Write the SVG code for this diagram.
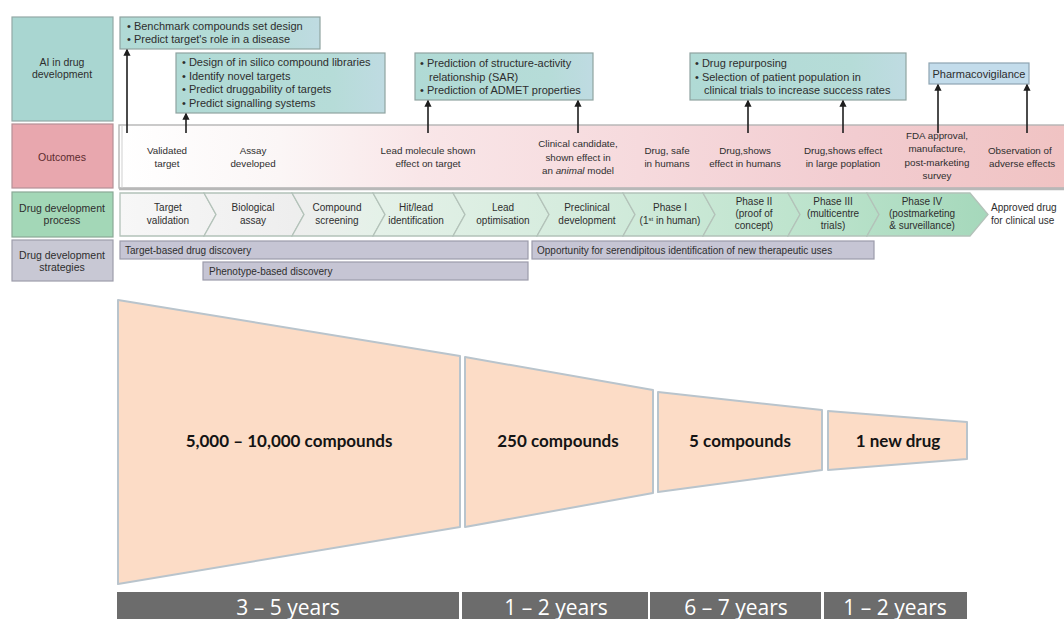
<svg xmlns="http://www.w3.org/2000/svg" width="1064" height="619" viewBox="0 0 1064 619">
<style>
  .t { font-family: "Liberation Sans", Arial, sans-serif; fill: #2e2e2e; }
  .lab { font-size: 10.5px; text-anchor: middle; }
  .ai { font-size: 11px; }
  .out { font-size: 9.8px; text-anchor: middle; }
  .proc { font-size: 10px; text-anchor: middle; }
  .st { text-anchor: start; }
  .strat { font-size: 10px; }
  .aibox { fill: url(#aiGrad); stroke: #8fa3a1; stroke-width: 1.2; }
  .chev { fill: url(#chevGrad); stroke: #b3c2b9; stroke-width: 1.3; }
  .sbar { fill: #c6c5d4; stroke: #9c9bab; stroke-width: 1.2; }
  .arr { stroke: #1e1e1e; stroke-width: 1.6; fill: none; marker-end: url(#ah); }
  .fun { fill: #fcdcc6; stroke: #b9c4cc; stroke-width: 2; stroke-linejoin: round; }
  .flab { font-family: Lato, "Open Sans", sans-serif; font-weight: bold; font-size: 17px; fill: #141414; text-anchor: middle; }
  .ybar { fill: #6c6c6c; }
  .ylab { font-family: "Open Sans", "Liberation Sans", sans-serif; font-size: 21px; fill: #ffffff; text-anchor: middle; }
</style>
<defs>
  <marker id="ah" viewBox="0 0 10 10" refX="8" refY="5" markerWidth="4.5" markerHeight="4.5" orient="auto">
    <path d="M0,0 L10,5 L0,10 Z" fill="#1e1e1e"/>
  </marker>
  <linearGradient id="aiGrad" x1="0" y1="0" x2="1" y2="0">
    <stop offset="0" stop-color="#b0dad5"/>
    <stop offset="0.75" stop-color="#b6dcd8"/>
    <stop offset="1" stop-color="#bfdbe2"/>
  </linearGradient>
  <linearGradient id="outGrad" gradientUnits="userSpaceOnUse" x1="119" y1="0" x2="1064" y2="0">
    <stop offset="0" stop-color="#ffffff"/>
    <stop offset="0.17" stop-color="#fbf6f6"/>
    <stop offset="0.32" stop-color="#f9e6e8"/>
    <stop offset="0.55" stop-color="#f6dadd"/>
    <stop offset="0.78" stop-color="#f2ccd0"/>
    <stop offset="1" stop-color="#f0c3c3"/>
  </linearGradient>
  <linearGradient id="chevGrad" gradientUnits="userSpaceOnUse" x1="120" y1="0" x2="988" y2="0">
    <stop offset="0" stop-color="#f7f7f7"/>
    <stop offset="0.2" stop-color="#eeeeee"/>
    <stop offset="0.3" stop-color="#e4f1e8"/>
    <stop offset="0.55" stop-color="#d3ebdc"/>
    <stop offset="0.8" stop-color="#bce3cc"/>
    <stop offset="1" stop-color="#a5d8bb"/>
  </linearGradient>
</defs>

<!-- Left column labels -->
<g id="label-ai">
  <rect x="12" y="17" width="101" height="104" fill="#a9d6d1" stroke="#93a8a6" stroke-width="1.2"/>
  <text class="t lab" x="62" y="66">AI in drug</text>
  <text class="t lab" x="62" y="78">development</text>
</g>
<g id="label-outcomes">
  <rect x="12" y="124" width="101" height="64" fill="#e8a7ae" stroke="#b59096" stroke-width="1.2"/>
  <text class="t lab" x="62" y="161" style="fill:#5c2b2e">Outcomes</text>
</g>
<g id="label-process">
  <rect x="12" y="192" width="101" height="45" fill="#a3d7b7" stroke="#8aa896" stroke-width="1.2"/>
  <text class="t lab" x="62" y="212">Drug development</text>
  <text class="t lab" x="62" y="224">process</text>
</g>
<g id="label-strategies">
  <rect x="12" y="240" width="101" height="41" fill="#c8c8d4" stroke="#9d9dab" stroke-width="1.2"/>
  <text class="t lab" x="62" y="259">Drug development</text>
  <text class="t lab" x="62" y="271">strategies</text>
</g>

<!-- Outcomes row -->
<g id="outcomes-row">
  <rect x="119" y="125" width="950" height="63" fill="url(#outGrad)" stroke="#b4b4b4" stroke-width="1.4"/>
  <line x1="119" y1="189" x2="1064" y2="189" stroke="#b8b8b8" stroke-width="2.5"/>
  <line x1="122" y1="125" x2="122" y2="188" stroke="#cfcfcf" stroke-width="1"/>
</g>

<!-- AI boxes -->
<g id="ai-box-1">
  <rect class="aibox" x="120" y="17" width="200" height="32"/>
  <text class="t ai" x="127" y="30">• Benchmark compounds set design</text>
  <text class="t ai" x="127" y="43">• Predict target's role in a disease</text>
</g>
<g id="ai-box-2">
  <rect class="aibox" x="176" y="53" width="209" height="60"/>
  <text class="t ai" x="182" y="66">• Design of in silico compound libraries</text>
  <text class="t ai" x="182" y="80">• Identify novel targets</text>
  <text class="t ai" x="182" y="93">• Predict druggability of targets</text>
  <text class="t ai" x="182" y="107">• Predict signalling systems</text>
</g>
<g id="ai-box-3">
  <rect class="aibox" x="415" y="53" width="178" height="47"/>
  <text class="t ai" x="420" y="67">• Prediction of structure-activity</text>
  <text class="t ai" x="429" y="81">relationship (SAR)</text>
  <text class="t ai" x="420" y="94">• Prediction of ADMET properties</text>
</g>
<g id="ai-box-4">
  <rect class="aibox" x="690" y="53" width="216" height="47"/>
  <text class="t ai" x="695" y="67">• Drug repurposing</text>
  <text class="t ai" x="695" y="81">• Selection of patient population in</text>
  <text class="t ai" x="704" y="94">clinical trials to increase success rates</text>
</g>
<g id="ai-box-5">
  <rect x="929" y="63" width="100" height="21" fill="#c3dceb" stroke="#8ea4b2" stroke-width="1.2"/>
  <text class="t ai" x="979" y="78" text-anchor="middle">Pharmacovigilance</text>
</g>

<!-- Outcome texts -->
<g id="outcomes">
  <text class="t out" x="167" y="154">Validated</text>
  <text class="t out" x="167" y="167">target</text>
  <text class="t out" x="253" y="154">Assay</text>
  <text class="t out" x="253" y="167">developed</text>
  <text class="t out" x="428" y="154">Lead molecule shown</text>
  <text class="t out" x="428" y="167">effect on target</text>
  <text class="t out" x="578" y="147">Clinical candidate,</text>
  <text class="t out" x="578" y="161">shown effect in</text>
  <text class="t out" x="578" y="174">an <tspan font-style="italic">animal</tspan> model</text>
  <text class="t out" x="667" y="154">Drug, safe</text>
  <text class="t out" x="667" y="167">in humans</text>
  <text class="t out" x="745" y="154">Drug,shows</text>
  <text class="t out" x="745" y="167">effect in humans</text>
  <text class="t out" x="843" y="154">Drug,shows effect</text>
  <text class="t out" x="843" y="167">in large poplation</text>
  <text class="t out" x="937" y="139">FDA approval,</text>
  <text class="t out" x="937" y="152">manufacture,</text>
  <text class="t out" x="937" y="166">post-marketing</text>
  <text class="t out" x="937" y="179">survey</text>
  <text class="t out st" x="988" y="154">Observation of</text>
  <text class="t out st" x="989" y="167">adverse effects</text>
</g>

<!-- Process chevrons -->
<g id="process">
  <path class="chev" d="M120,193 L204,193 L216,214.5 L204,236 L120,236 Z"/>
  <path class="chev" d="M204,193 L292,193 L304,214.5 L292,236 L204,236 L216,214.5 Z"/>
  <path class="chev" d="M292,193 L373,193 L385,214.5 L373,236 L292,236 L304,214.5 Z"/>
  <path class="chev" d="M373,193 L453,193 L465,214.5 L453,236 L373,236 L385,214.5 Z"/>
  <path class="chev" d="M453,193 L537,193 L549,214.5 L537,236 L453,236 L465,214.5 Z"/>
  <path class="chev" d="M537,193 L623,193 L635,214.5 L623,236 L537,236 L549,214.5 Z"/>
  <path class="chev" d="M623,193 L703,193 L715,214.5 L703,236 L623,236 L635,214.5 Z"/>
  <path class="chev" d="M703,193 L788,193 L800,214.5 L788,236 L703,236 L715,214.5 Z"/>
  <path class="chev" d="M788,193 L867,193 L879,214.5 L867,236 L788,236 L800,214.5 Z"/>
  <path class="chev" d="M867,193 L970,193 L988,214.5 L970,236 L867,236 L879,214.5 Z"/>
  <text class="t proc" x="168" y="211">Target</text>
  <text class="t proc" x="168" y="224">validation</text>
  <text class="t proc" x="253" y="211">Biological</text>
  <text class="t proc" x="253" y="224">assay</text>
  <text class="t proc" x="337" y="211">Compound</text>
  <text class="t proc" x="337" y="224">screening</text>
  <text class="t proc" x="416" y="211">Hit/lead</text>
  <text class="t proc" x="416" y="224">identification</text>
  <text class="t proc" x="503" y="211">Lead</text>
  <text class="t proc" x="503" y="224">optimisation</text>
  <text class="t proc" x="587" y="211">Preclinical</text>
  <text class="t proc" x="587" y="224">development</text>
  <text class="t proc" x="670" y="211">Phase I</text>
  <text class="t proc" x="670" y="224">(1<tspan font-size="6" dy="-3.5">st</tspan><tspan dy="3.5"> in human)</tspan></text>
  <text class="t proc" x="754" y="205">Phase II</text>
  <text class="t proc" x="754" y="217">(proof of</text>
  <text class="t proc" x="754" y="229">concept)</text>
  <text class="t proc" x="833" y="205">Phase III</text>
  <text class="t proc" x="833" y="217">(multicentre</text>
  <text class="t proc" x="833" y="229">trials)</text>
  <text class="t proc" x="922" y="205">Phase IV</text>
  <text class="t proc" x="922" y="217">(postmarketing</text>
  <text class="t proc" x="922" y="229">&amp; surveillance)</text>
  <text class="t proc st" x="991" y="211">Approved drug</text>
  <text class="t proc st" x="991" y="224">for clinical use</text>
</g>

<!-- Strategies -->
<g id="strategy-target">
  <rect class="sbar" x="120" y="241" width="408" height="18"/>
  <text class="t strat" x="125" y="254">Target-based drug discovery</text>
</g>
<g id="strategy-phenotype">
  <rect class="sbar" x="203" y="262" width="325" height="18"/>
  <text class="t strat" x="209" y="275">Phenotype-based discovery</text>
</g>
<g id="strategy-serendipity">
  <rect class="sbar" x="532" y="241" width="342" height="18"/>
  <text class="t strat" x="537" y="254">Opportunity for serendipitous identification of new therapeutic uses</text>
</g>

<!-- Connectors -->
<g id="connectors">
  <line class="arr" x1="127" y1="133" x2="127" y2="50"/>
  <line class="arr" x1="186" y1="133" x2="186" y2="114"/>
  <line class="arr" x1="428" y1="133" x2="428" y2="101"/>
  <line class="arr" x1="578" y1="133" x2="578" y2="101"/>
  <line class="arr" x1="748" y1="133" x2="748" y2="101"/>
  <line class="arr" x1="843" y1="133" x2="843" y2="101"/>
  <line class="arr" x1="938" y1="133" x2="938" y2="85"/>
  <line class="arr" x1="1027" y1="133" x2="1027" y2="85"/>
</g>

<!-- Funnel -->
<g id="funnel-1">
  <path class="fun" d="M118,300 L460,356 L460,527 L118,584 Z"/>
  <text class="flab" x="289" y="447">5,000 – 10,000 compounds</text>
</g>
<g id="funnel-2">
  <path class="fun" d="M465,357 L653,390 L653,493 L465,527 Z"/>
  <text class="flab" x="558" y="447">250 compounds</text>
</g>
<g id="funnel-3">
  <path class="fun" d="M658,392 L822,410 L822,470 L658,492 Z"/>
  <text class="flab" x="740" y="447">5 compounds</text>
</g>
<g id="funnel-4">
  <path class="fun" d="M828,411 L967,422 L967,459 L828,470 Z"/>
  <text class="flab" x="898" y="447">1 new drug</text>
</g>

<!-- Year bars -->
<g id="years-1">
  <rect class="ybar" x="117" y="592" width="342" height="27"/>
  <text class="ylab" x="288" y="615">3 – 5 years</text>
</g>
<g id="years-2">
  <rect class="ybar" x="462" y="592" width="186" height="27"/>
  <text class="ylab" x="556" y="615">1 – 2 years</text>
</g>
<g id="years-3">
  <rect class="ybar" x="650" y="592" width="171" height="27"/>
  <text class="ylab" x="736" y="615">6 – 7 years</text>
</g>
<g id="years-4">
  <rect class="ybar" x="824" y="592" width="143" height="27"/>
  <text class="ylab" x="895" y="615">1 – 2 years</text>
</g>
</svg>
